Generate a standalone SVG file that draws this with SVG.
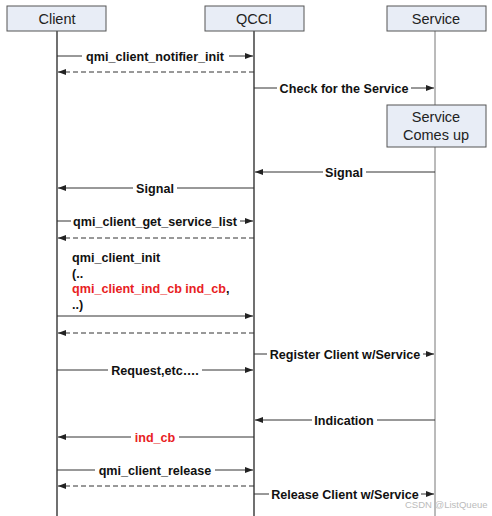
<svg xmlns="http://www.w3.org/2000/svg" width="492" height="516" viewBox="0 0 492 516">
<defs>
<marker id="ah" markerWidth="8" markerHeight="6" refX="8" refY="3" orient="auto" markerUnits="userSpaceOnUse">
<path d="M0,0 L8,3 L0,6 Z" fill="#222"/>
</marker>
<style>
.box{fill:#e8edf6;stroke:#555;stroke-width:1}
.hdr{font-family:"Liberation Sans",Arial,sans-serif;font-size:14.5px;fill:#222;text-anchor:middle}
.life{stroke:#111;stroke-width:1.2}
.msg{stroke:#333;stroke-width:1;fill:none;marker-end:url(#ah)}
.ret{stroke:#333;stroke-width:1;stroke-dasharray:5,3;fill:none;marker-end:url(#ah)}
.bg{fill:#fff}
.lbl{font-family:"Liberation Sans",Arial,sans-serif;font-size:12.6px;font-weight:bold;fill:#111;text-anchor:middle}
.txt{font-family:"Liberation Sans",Arial,sans-serif;font-size:12.6px;font-weight:bold;fill:#111}
.red{fill:#e8211f}
</style>
</defs>
<rect width="492" height="516" fill="#fff"/>
<g id="lifelines">
<line class="life" x1="57" y1="31" x2="57" y2="516"/>
<line class="life" x1="254" y1="31" x2="254" y2="516"/>
<line x1="435" y1="31" x2="435" y2="105" stroke="#777" stroke-width="1"/>
<line x1="435" y1="147" x2="435" y2="516" stroke="#777" stroke-width="1"/>
</g>
<g id="client">
<rect class="box" x="7" y="6" width="99" height="25"/>
<text class="hdr" x="57" y="23.5">Client</text>
</g>
<g id="qcci">
<rect class="box" x="205" y="6" width="99" height="25"/>
<text class="hdr" x="254" y="23.5">QCCI</text>
</g>
<g id="service">
<rect class="box" x="387" y="6" width="99" height="25"/>
<text class="hdr" x="436" y="23.5">Service</text>
</g>
<g id="service-up">
<rect class="box" x="387" y="105" width="99" height="42"/>
<text class="hdr" x="436" y="122">Service</text>
<text class="hdr" x="436" y="140">Comes up</text>
</g>
<g id="connectors">
<line class="msg" x1="57" y1="56" x2="253" y2="56"/>
<rect class="bg" x="82" y="50" width="147" height="12"/>
<text class="lbl" x="155" y="60.5">qmi_client_notifier_init</text>
<line class="ret" x1="254" y1="72" x2="58" y2="72"/>
<line class="msg" x1="254" y1="88" x2="434" y2="88"/>
<rect class="bg" x="277" y="82" width="134" height="12"/>
<text class="lbl" x="344" y="92.5">Check for the Service</text>
<line class="msg" x1="435" y1="172" x2="255" y2="172"/>
<rect class="bg" x="323" y="166" width="43" height="12"/>
<text class="lbl" x="344" y="176.5">Signal</text>
<line class="msg" x1="254" y1="188" x2="58" y2="188"/>
<rect class="bg" x="133" y="182" width="44" height="12"/>
<text class="lbl" x="155" y="192.5">Signal</text>
<line class="msg" x1="57" y1="221" x2="253" y2="221"/>
<rect class="bg" x="71" y="215" width="169" height="12"/>
<text class="lbl" x="155" y="225.5">qmi_client_get_service_list</text>
<line class="ret" x1="254" y1="238" x2="58" y2="238"/>
<text class="txt" x="72" y="262">qmi_client_init</text>
<text class="txt" x="72" y="277.5">(..</text>
<text class="txt" x="72" y="293"><tspan class="red">qmi_client_ind_cb ind_cb</tspan>,</text>
<text class="txt" x="72" y="308.5">..)</text>
<line class="msg" x1="57" y1="316" x2="253" y2="316"/>
<line class="ret" x1="254" y1="333" x2="58" y2="333"/>
<line class="msg" x1="254" y1="354" x2="434" y2="354"/>
<rect class="bg" x="267" y="348" width="156" height="12"/>
<text class="lbl" x="345" y="358.5">Register Client w/Service</text>
<line class="msg" x1="57" y1="370" x2="253" y2="370"/>
<rect class="bg" x="108" y="364" width="94" height="12"/>
<text class="lbl" x="155" y="374.5">Request,etc….</text>
<line class="msg" x1="435" y1="420" x2="255" y2="420"/>
<rect class="bg" x="312" y="414" width="65" height="12"/>
<text class="lbl" x="344" y="424.5">Indication</text>
<line class="msg" x1="254" y1="437" x2="58" y2="437"/>
<rect class="bg" x="131" y="431" width="48" height="12"/>
<text class="lbl red" x="155" y="441.5">ind_cb</text>
<line class="msg" x1="57" y1="470" x2="253" y2="470"/>
<rect class="bg" x="95" y="464" width="120" height="12"/>
<text class="lbl" x="155" y="474.5">qmi_client_release</text>
<line class="ret" x1="254" y1="486" x2="58" y2="486"/>
<line class="msg" x1="254" y1="494" x2="434" y2="494"/>
<rect class="bg" x="269" y="488" width="152" height="12"/>
<text class="lbl" x="345" y="498.5">Release Client w/Service</text>
</g>
<text x="405" y="508" font-family="Liberation Sans,Arial,sans-serif" font-size="9.5" fill="#bbb">CSDN @ListQueue</text>
</svg>
